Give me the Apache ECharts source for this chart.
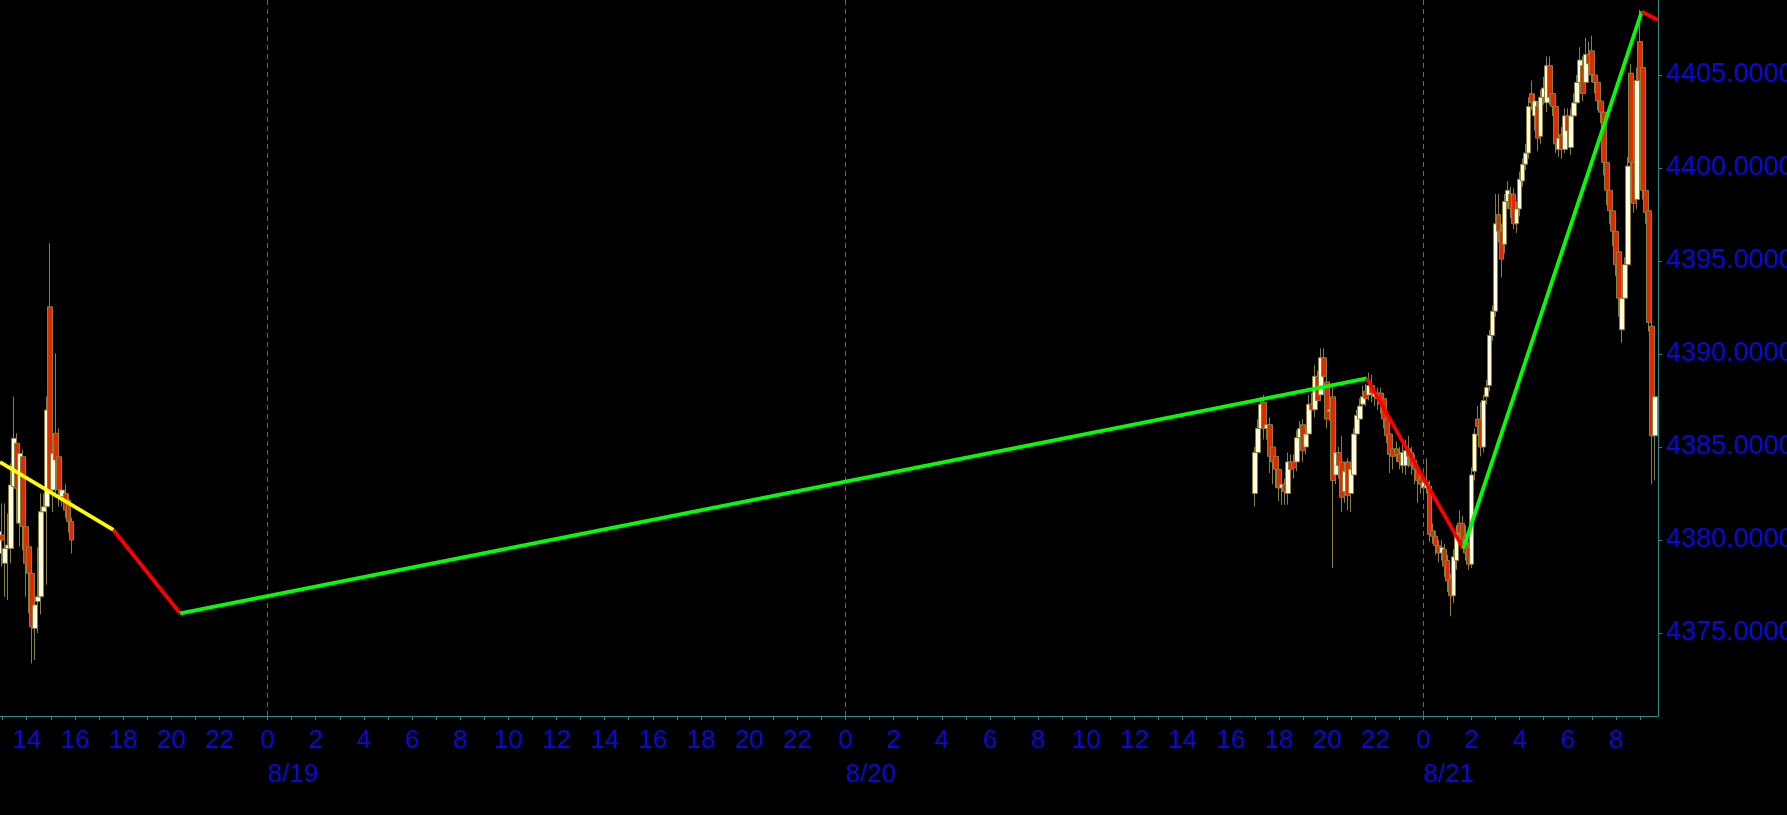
<!DOCTYPE html>
<html><head><meta charset="utf-8">
<script src="https://cdn.jsdelivr.net/npm/echarts@6/dist/echarts.min.js"></script>
<style>html,body{margin:0;padding:0;background:#000;}#c{width:1787px;height:815px;}</style>
</head><body><div id="c"></div>
<script>
// hours are measured from 8/19 00:00
const dayLabels = ['8/19', '8/20', '8/21'];
const dayStartHours = [0, 24, 48];
const priceTicks = [4375, 4380, 4385, 4390, 4395, 4400, 4405];
const seg1Start = -11.15;  // 8/18 ~12:51
const seg2Start = 41.0;    // 8/20 17:00
const barHours = 0.125;    // bar length

// rows: [open, close, low, high]
const seg1 = [
  [4379.28, 4380.45, 4376.24, 4383.05],
  [4380.27, 4380.00, 4378.57, 4381.97],
  [4378.75, 4379.55, 4376.95, 4381.97],
  [4379.55, 4379.73, 4376.77, 4381.43],
  [4379.55, 4382.96, 4378.75, 4384.12],
  [4382.87, 4385.47, 4382.33, 4387.71],
  [4385.20, 4382.78, 4380.90, 4385.74],
  [4380.90, 4384.66, 4379.64, 4385.20],
  [4384.48, 4380.72, 4379.46, 4384.84],
  [4380.72, 4378.75, 4376.95, 4382.51],
  [4379.64, 4378.21, 4376.06, 4380.40],
  [4378.21, 4375.34, 4373.37, 4379.00],
  [4375.25, 4376.51, 4373.55, 4378.00],
  [4376.69, 4376.95, 4375.00, 4379.60],
  [4376.95, 4381.52, 4376.00, 4382.50],
  [4381.52, 4381.79, 4380.90, 4382.50],
  [4381.79, 4386.99, 4377.60, 4387.71],
  [4392.54, 4382.69, 4382.20, 4395.95],
  [4382.69, 4384.66, 4381.50, 4386.63],
  [4385.74, 4384.30, 4382.30, 4390.04],
  [4384.48, 4382.69, 4381.80, 4386.00],
  [4382.33, 4382.69, 4381.80, 4383.05],
  [4382.51, 4381.61, 4381.20, 4383.00],
  [4382.15, 4380.99, 4380.40, 4382.50],
  [4380.99, 4380.00, 4379.28, 4381.20]
];
const seg2 = [
  [4382.5, 4384.7, 4381.8, 4385.0], [4384.7, 4386.0, 4384.2, 4386.5], [4386.0, 4387.3, 4385.6, 4387.7],
  [4387.4, 4386.0, 4385.4, 4387.8], [4386.0, 4386.2, 4385.4, 4386.6], [4386.2, 4384.5, 4383.6, 4386.6],
  [4385.0, 4384.2, 4383.0, 4385.2], [4384.5, 4383.8, 4382.8, 4384.7], [4383.8, 4382.8, 4382.1, 4384.0],
  [4382.8, 4383.0, 4381.9, 4383.4], [4383.0, 4382.6, 4381.9, 4383.3], [4382.5, 4384.2, 4381.9, 4384.7],
  [4384.2, 4383.8, 4383.0, 4384.6], [4384.2, 4383.9, 4383.3, 4384.6], [4384.2, 4385.5, 4383.7, 4385.9],
  [4385.5, 4386.0, 4385.0, 4386.4], [4386.2, 4384.8, 4384.2, 4386.5], [4385.0, 4385.7, 4384.6, 4386.0],
  [4385.7, 4387.3, 4385.4, 4387.8], [4387.3, 4387.0, 4386.6, 4387.9], [4387.0, 4388.8, 4386.6, 4389.4],
  [4388.8, 4387.5, 4387.0, 4389.1], [4387.8, 4389.8, 4387.5, 4390.3], [4389.8, 4388.8, 4388.3, 4390.3],
  [4388.5, 4386.5, 4386.0, 4388.8], [4386.9, 4387.0, 4386.4, 4387.8], [4387.7, 4383.2, 4378.5, 4388.2],
  [4383.5, 4384.7, 4383.0, 4385.6], [4384.7, 4384.0, 4383.3, 4385.0], [4384.2, 4382.3, 4381.5, 4385.6],
  [4382.6, 4383.7, 4382.0, 4384.2], [4384.2, 4382.4, 4381.6, 4384.4], [4382.5, 4383.8, 4381.5, 4384.1],
  [4383.5, 4385.7, 4383.2, 4386.0], [4385.7, 4386.7, 4385.4, 4387.0], [4386.5, 4387.2, 4386.1, 4387.6],
  [4387.3, 4387.7, 4387.0, 4388.3], [4388.0, 4387.6, 4387.2, 4388.4], [4387.8, 4388.3, 4387.5, 4389.0],
  [4388.3, 4387.9, 4387.4, 4388.9], [4387.7, 4387.9, 4387.2, 4388.2], [4387.9, 4387.6, 4387.0, 4388.2],
  [4387.9, 4387.3, 4386.8, 4388.2], [4387.6, 4386.5, 4386.0, 4387.9], [4386.5, 4385.6, 4385.2, 4386.7],
  [4385.7, 4384.6, 4383.6, 4386.0], [4384.9, 4384.5, 4383.8, 4385.2], [4384.9, 4384.6, 4384.2, 4385.3],
  [4384.6, 4384.2, 4383.8, 4385.0], [4384.0, 4384.7, 4383.6, 4385.1], [4384.0, 4384.8, 4383.5, 4385.4],
  [4384.9, 4384.5, 4383.9, 4385.6], [4384.7, 4384.0, 4383.5, 4385.0], [4384.3, 4383.8, 4383.0, 4384.6],
  [4383.8, 4383.2, 4382.0, 4384.1], [4383.3, 4383.0, 4382.5, 4383.6], [4382.8, 4383.1, 4382.4, 4383.5],
  [4382.8, 4383.1, 4382.5, 4384.4], [4382.9, 4380.3, 4379.9, 4383.2], [4380.5, 4380.2, 4379.8, 4380.9],
  [4380.2, 4379.7, 4379.2, 4380.5], [4379.7, 4379.3, 4378.8, 4380.0], [4379.3, 4379.6, 4378.9, 4380.0],
  [4379.5, 4378.6, 4378.0, 4379.8], [4378.9, 4377.8, 4377.2, 4379.2], [4377.9, 4377.0, 4375.9, 4378.2],
  [4377.0, 4379.1, 4376.6, 4379.5], [4378.9, 4380.4, 4378.4, 4380.8], [4380.9, 4380.4, 4379.9, 4381.6],
  [4380.9, 4380.0, 4379.5, 4381.3], [4380.2, 4379.3, 4378.9, 4380.8], [4379.6, 4378.7, 4378.4, 4379.9],
  [4378.7, 4383.5, 4378.5, 4383.9], [4383.7, 4385.7, 4383.2, 4386.0], [4386.5, 4386.1, 4385.6, 4387.2],
  [4386.5, 4385.0, 4384.5, 4387.4], [4385.0, 4387.5, 4384.7, 4387.8], [4387.7, 4388.2, 4387.3, 4388.6],
  [4388.3, 4391.0, 4388.0, 4391.3], [4391.0, 4392.3, 4390.7, 4392.6], [4392.3, 4397.0, 4392.0, 4398.6],
  [4397.5, 4396.6, 4396.0, 4398.6], [4396.6, 4395.1, 4394.1, 4397.0], [4395.9, 4398.2, 4395.4, 4398.6],
  [4398.2, 4398.8, 4397.8, 4399.3], [4398.6, 4397.8, 4397.3, 4399.0], [4398.6, 4397.0, 4396.7, 4398.9],
  [4397.0, 4397.8, 4396.5, 4398.2], [4397.8, 4399.4, 4397.4, 4399.8], [4399.3, 4400.2, 4399.0, 4400.5],
  [4400.2, 4400.8, 4399.9, 4401.3], [4400.8, 4403.3, 4400.5, 4403.8], [4404.0, 4403.5, 4403.1, 4404.7],
  [4402.8, 4403.6, 4402.0, 4404.0], [4403.3, 4401.6, 4400.9, 4403.6], [4401.7, 4403.8, 4401.3, 4404.2],
  [4403.8, 4404.3, 4403.4, 4404.9], [4403.5, 4405.5, 4403.0, 4406.0], [4405.5, 4403.8, 4403.4, 4406.0],
  [4404.0, 4403.3, 4402.8, 4404.4], [4403.3, 4401.3, 4400.8, 4403.6], [4401.0, 4401.6, 4400.6, 4402.3],
  [4401.8, 4401.0, 4400.5, 4402.2], [4401.0, 4402.8, 4400.8, 4403.2], [4402.8, 4402.0, 4401.4, 4403.2],
  [4401.1, 4402.8, 4400.7, 4403.2], [4402.8, 4403.5, 4402.4, 4404.0], [4403.5, 4404.6, 4403.2, 4405.0],
  [4404.6, 4405.8, 4404.2, 4406.5], [4405.5, 4404.0, 4403.6, 4406.0], [4404.6, 4406.1, 4404.2, 4407.0],
  [4406.1, 4405.6, 4405.0, 4406.8], [4406.3, 4405.0, 4404.6, 4407.1], [4405.0, 4404.6, 4404.0, 4405.3],
  [4404.6, 4403.6, 4403.1, 4404.9], [4403.6, 4403.0, 4402.4, 4403.9], [4403.0, 4400.3, 4399.6, 4403.3],
  [4400.3, 4398.8, 4398.0, 4400.6], [4398.8, 4397.7, 4397.0, 4399.2], [4397.7, 4396.6, 4395.8, 4398.0],
  [4396.6, 4394.8, 4394.2, 4397.0], [4395.5, 4393.0, 4392.0, 4395.9], [4391.3, 4393.0, 4390.6, 4393.6],
  [4393.0, 4394.8, 4392.5, 4395.2], [4394.8, 4400.1, 4394.3, 4400.6], [4405.1, 4400.3, 4399.5, 4405.6],
  [4400.3, 4398.1, 4397.6, 4400.8], [4398.3, 4404.7, 4397.8, 4405.4], [4406.8, 4404.7, 4404.2, 4408.5],
  [4405.4, 4398.8, 4398.3, 4405.8], [4398.8, 4397.6, 4397.0, 4399.2], [4397.7, 4391.7, 4391.2, 4398.0],
  [4391.5, 4385.6, 4383.0, 4391.8], [4385.6, 4387.7, 4383.2, 4390.0]
];

// zigzag indicator vertices
const zigzagX = [-11.11, -6.40, -3.63, 45.65, 49.66, 57.07, 57.745];
const zigzagY = [4384.19, 4380.54, 4376.06, 4388.69, 4379.55, 4408.40, 4407.96];
const zigzagColors = ['#ffff00', '#ff0000', '#00ff00', '#ff0000', '#00ff00', '#ff0000'];

const X_MIN = -11.11, X_MAX = 57.745;
const Y_MIN = 4370.54, Y_MAX = 4409.03;

function toCandles(start, rows) {
  return rows.map((r, i) => [start + i * barHours, r[0], r[1], r[2], r[3]]);
}
const candles = toCandles(seg1Start, seg1).concat(toCandles(seg2Start, seg2));

const hourTicks = [];
for (let h = -11; h <= 57; h++) hourTicks.push(h);
const hourLabelVals = hourTicks.filter(h => Math.abs(h % 2) === 0);

const BLUE = '#0808e0';
const TEAL = '#2a8c8c';
const FONT = 'Liberation Sans';

const zigSeries = zigzagColors.map((c, i) => ({
  type: 'line', xAxisIndex: 0, yAxisIndex: 0, symbol: 'none', silent: true, z: 5,
  data: [[zigzagX[i], zigzagY[i]], [zigzagX[i + 1], zigzagY[i + 1]]],
  lineStyle: { color: c, width: 3.8 }
}));

const chart = echarts.init(document.getElementById('c'), null, { renderer: 'canvas' });
chart.setOption({
  backgroundColor: '#000000',
  animation: false,
  grid: { left: 0, right: 129, top: 0, bottom: 99, containLabel: false, outerBoundsMode: 'none' },
  xAxis: [
    {
      type: 'value', min: X_MIN, max: X_MAX, position: 'bottom',
      axisLine: { show: true, onZero: false, lineStyle: { color: TEAL, width: 1 } },
      axisTick: { show: true, inside: false, length: 4, customValues: hourTicks, lineStyle: { color: TEAL } },
      axisLabel: {
        customValues: hourLabelVals, color: BLUE, fontFamily: FONT, fontSize: 26, margin: 12,
        formatter: v => String(((Math.round(v) % 24) + 24) % 24)
      },
      splitLine: { show: false }
    },
    {
      type: 'value', min: X_MIN, max: X_MAX, position: 'bottom', offset: 0,
      axisLine: { show: false, onZero: false }, axisTick: { show: false }, splitLine: { show: false },
      axisLabel: {
        customValues: dayStartHours, color: BLUE, fontFamily: FONT, fontSize: 26, margin: 46, align: 'left',
        formatter: v => dayLabels[dayStartHours.indexOf(Math.round(v))] || ''
      }
    }
  ],
  yAxis: {
    type: 'value', position: 'right', min: Y_MIN, max: Y_MAX, scale: true,
    axisLine: { show: true, onZero: false, lineStyle: { color: TEAL, width: 1 } },
    axisTick: { show: true, inside: false, length: 4, customValues: priceTicks, lineStyle: { color: TEAL } },
    axisLabel: {
      customValues: priceTicks, color: BLUE, fontFamily: FONT, fontSize: 27, margin: 8,
      padding: [6, 0, 0, 0],
      formatter: v => v.toFixed(4)
    },
    splitLine: { show: false }
  },
  series: [
    {
      type: 'candlestick', xAxisIndex: 0, yAxisIndex: 0,
      dimensions: ['time', 'open', 'close', 'lowest', 'highest'],
      encode: { x: 0, y: [1, 2, 3, 4] },
      data: candles, barWidth: 5, clip: true,
      itemStyle: { color: '#fffbe3', color0: '#e22a00', borderColor: '#8c7f3c', borderColor0: '#8c7f3c', borderWidth: 1 },
      markLine: {
        silent: true, symbol: ['none', 'none'], label: { show: false },
        lineStyle: { color: '#2e7f7f', type: [5, 4], width: 1 },
        data: dayStartHours.map(h => ({ xAxis: h }))
      }
    }
  ].concat(zigSeries)
});
</script>
</body></html>
